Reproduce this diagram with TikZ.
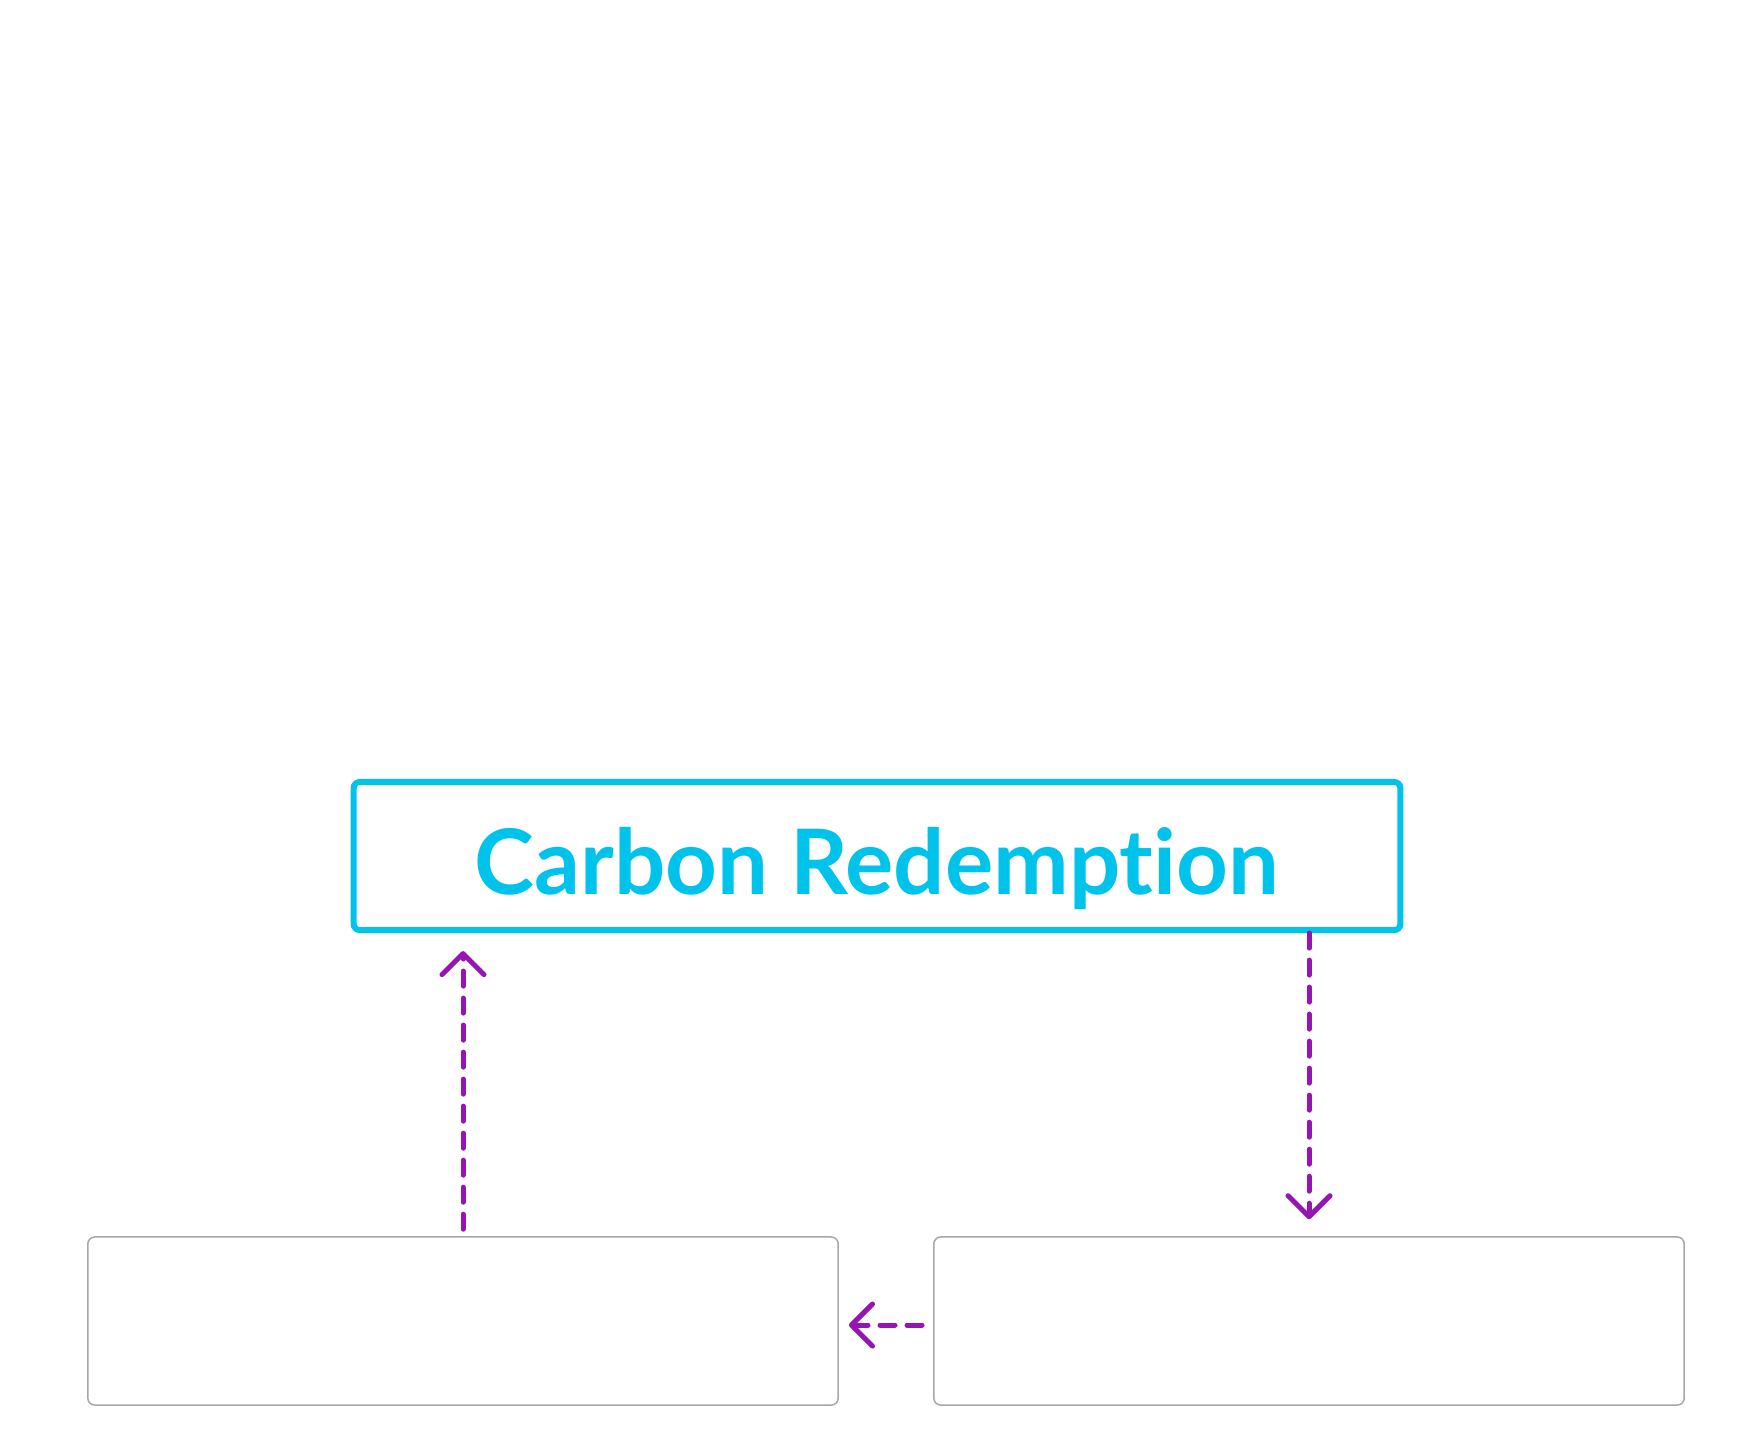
\documentclass[tikz,border=0pt]{standalone}
\usepackage{fontspec}
\setmainfont{Lato}[Ligatures={NoCommon,NoRare}]
\usepackage{tikz}
\usetikzlibrary{arrows.meta,positioning}
\definecolor{crcyan}{HTML}{00C3EC}
\definecolor{crpurple}{HTML}{9614B4}
\definecolor{crgray}{HTML}{A8A8A8}

\begin{document}
\begin{tikzpicture}[
  x=0.01cm, y=-0.01cm,
  title/.style={draw=crcyan, line width=0.06cm, rounded corners=0.06cm, minimum width=10.46cm, minimum height=1.48cm, inner sep=0pt, text height=0.76cm, text depth=0pt, text=crcyan, font=\fontsize{25.7}{30}\selectfont\bfseries},
  part/.style={draw=crgray, line width=0.015cm, rounded corners=0.07cm, minimum width=7.5cm, minimum height=1.68cm, inner sep=0pt},
  flow/.style={crpurple, line width=0.05cm, line cap=round, dash pattern=on 0.15cm off 0.12cm, -{Straight Barb[length=0.21cm,width=0.42cm,line cap=round,round]}}
]
\useasboundingbox (0,0) rectangle (1758,1429);

\node[title] (cr) at (877,856) {Carbon Redemption};
\node[part] (boxl) at (463,1321) {};
\node[part] (boxr) at (1309,1321) {};

\draw[flow, shorten <=0.07cm, shorten >=0.18cm] (boxl.north) -- (cr.south -| boxl.north);
\draw[flow, shorten >=0.17cm] (cr.south -| boxr.north) -- (boxr.north);
\draw[flow, shorten <=0.11cm, shorten >=0.10cm] ([yshift=-0.04cm]boxr.west) -- ([yshift=-0.04cm]boxl.east);
\end{tikzpicture}
\end{document}
